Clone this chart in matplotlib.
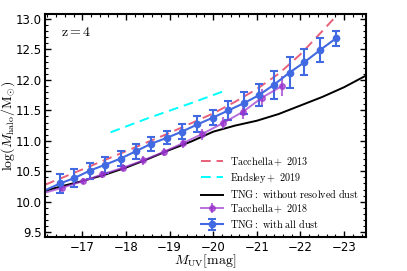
import matplotlib
matplotlib.use("Agg")
import matplotlib.pyplot as plt
from matplotlib.ticker import MultipleLocator

plt.rcParams['mathtext.fontset'] = 'cm'
plt.rcParams['xtick.direction'] = 'in'
plt.rcParams['ytick.direction'] = 'in'
plt.rcParams['xtick.top'] = True
plt.rcParams['ytick.right'] = True

# TNG: with all dust (binned points + line)
muv_tng = [-16.49, -16.82, -17.17, -17.53, -17.88, -18.23, -18.57, -18.94, -19.28, -19.64,
           -19.99, -20.35, -20.71, -21.05, -21.39, -21.75, -22.09, -22.45, -22.81]
mh_tng = [10.30, 10.39, 10.51, 10.61, 10.71, 10.83, 10.95, 11.05, 11.15, 11.27,
          11.38, 11.50, 11.62, 11.75, 11.92, 12.12, 12.29, 12.49, 12.68]
err_tng = [0.15, 0.14, 0.13, 0.13, 0.12, 0.12, 0.12, 0.11, 0.12, 0.13,
           0.12, 0.16, 0.18, 0.18, 0.23, 0.25, 0.21, 0.20, 0.12]
# extension of the line to the left edge
muv_tng_ext = [-16.15, -16.49]
mh_tng_ext = [10.19, 10.30]

# Tacchella+ 2018
muv_t18 = [-16.54, -17.02, -17.46, -17.94, -18.40, -18.87, -19.30, -19.74, -20.22, -20.69, -21.12, -21.58]
mh_t18 = [10.23, 10.34, 10.45, 10.56, 10.68, 10.82, 10.96, 11.11, 11.29, 11.48, 11.71, 11.90]
err_t18 = [0.05, 0.05, 0.06, 0.06, 0.07, 0.07, 0.08, 0.09, 0.10, 0.12, 0.14, 0.16]
muv_t18_ext = [-16.15, -16.54]
mh_t18_ext = [10.15, 10.23]

# TNG: without resolved dust
muv_nodust = [-16.15, -16.5, -17.0, -17.5, -18.0, -18.5, -19.0, -19.5, -20.0, -20.5,
              -21.0, -21.5, -22.0, -22.5, -23.0, -23.5]
mh_nodust = [10.18, 10.25, 10.34, 10.44, 10.56, 10.70, 10.85, 10.99, 11.15, 11.25,
             11.33, 11.44, 11.58, 11.72, 11.88, 12.07]

# Tacchella+ 2013
muv_t13 = [-16.15, -17.0, -18.0, -19.0, -20.0, -20.5, -21.0, -21.5, -22.0, -22.5, -22.95]
mh_t13 = [10.28, 10.53, 10.83, 11.13, 11.45, 11.64, 11.85, 12.10, 12.42, 12.80, 13.15]

# Endsley+ 2019
muv_e19 = [-17.65, -18.5, -19.5, -20.3]
mh_e19 = [11.14, 11.37, 11.62, 11.83]

fig = plt.figure(figsize=(4.07, 2.71), dpi=100)
ax = fig.add_axes([0.111, 0.125, 0.788, 0.823])

ax.plot(muv_t13, mh_t13, ls=(0, (5, 3)), color='#e8607a', lw=1.4,
        label=r'$\mathrm{Tacchella+\ 2013}$')
ax.plot(muv_e19, mh_e19, ls=(0, (5, 3)), color='cyan', lw=1.4,
        label=r'$\mathrm{Endsley+\ 2019}$')
ax.plot(muv_nodust, mh_nodust, color='black', lw=1.4,
        label=r'$\mathrm{TNG:\ without\ resolved\ dust}$')

ax.plot(muv_t18_ext, mh_t18_ext, color='darkorchid', alpha=0.7, lw=1.4)
ax.errorbar(muv_t18, mh_t18, yerr=err_t18, color='darkorchid', alpha=0.7, lw=1.4,
            marker='o', ms=4, elinewidth=1.5, capsize=0,
            label=r'$\mathrm{Tacchella+\ 2018}$')

ax.plot(muv_tng_ext, mh_tng_ext, color='royalblue', lw=1.5)
ax.errorbar(muv_tng, mh_tng, yerr=err_tng, color='royalblue', lw=1.5,
            marker='o', ms=4.5, elinewidth=1.5, capsize=3, capthick=1.5,
            label=r'$\mathrm{TNG:\ with\ all\ dust}$')

ax.set_xlim(-16.15, -23.5)
ax.set_ylim(9.42, 13.08)
ax.xaxis.set_major_locator(MultipleLocator(1))
ax.xaxis.set_minor_locator(MultipleLocator(0.2))
ax.yaxis.set_major_locator(MultipleLocator(0.5))
ax.yaxis.set_minor_locator(MultipleLocator(0.1))
ax.tick_params(which='major', length=4, width=1, labelsize=8.5, pad=2.5)
ax.tick_params(which='minor', length=2, width=0.8)
for s in ax.spines.values():
    s.set_linewidth(1.5)

ax.set_xlabel(r'$M_{\rm UV}[\rm mag]$', fontsize=10)
ax.xaxis.set_label_coords(0.5, -0.068)
ax.set_ylabel(r'$\log(M_{\rm halo}/{\rm M}_{\odot})$', fontsize=10)
ax.yaxis.set_label_coords(-0.088, 0.5)
ax.text(0.05, 0.92, r'$\rm z = 4$', transform=ax.transAxes, fontsize=10, va='center')

ax.legend(loc='lower right', frameon=False, fontsize=7.3, handlelength=2.2,
          handletextpad=0.7, labelspacing=0.22, borderaxespad=0.3)

fig.savefig('out.png', dpi=100)
